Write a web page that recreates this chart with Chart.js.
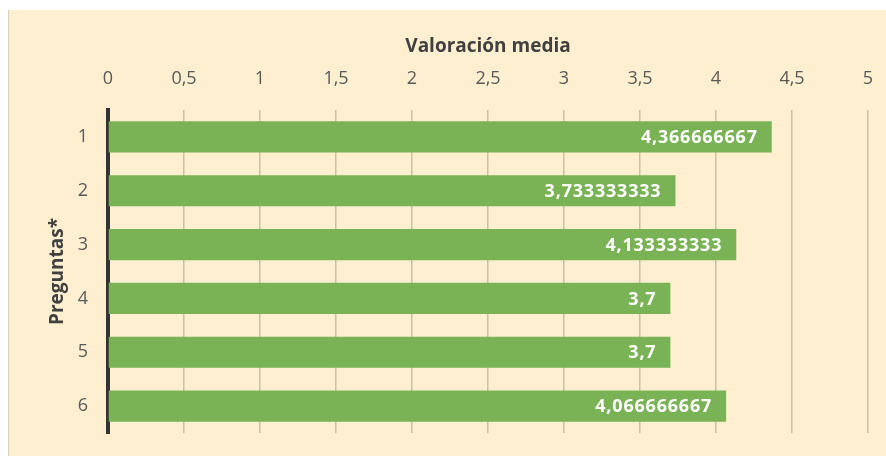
<!DOCTYPE html>
<html>
<head>
<meta charset="utf-8">
<script src="https://cdn.jsdelivr.net/npm/chart.js@4/dist/chart.umd.min.js"></script>
<style>
  html, body { margin: 0; padding: 0; background: #fff; }
  #wrap {
    position: absolute; left: 8px; top: 10px; width: 878px; height: 446px;
    background: #fdefcf; border-left: 1px solid #d4cfc4; box-sizing: border-box;
  }
  canvas { display: block; }
</style>
</head>
<body>
<div id="wrap"><canvas id="chart" width="877" height="446"></canvas></div>
<script>
'use strict';

// ── datos ─────────────────────────────────────────────
const preguntas = ['1', '2', '3', '4', '5', '6'];
const valores = [4.366666667, 3.733333333, 4.133333333, 3.7, 3.7, 4.066666667];
const etiquetas = ['4,366666667', '3,733333333', '4,133333333', '3,7', '3,7', '4,066666667'];

const FONT = '"Open Sans", "Noto Sans", sans-serif';
const BAR_COLOR = '#79b355';

// etiqueta blanca dentro del extremo de cada barra
const barLabels = {
  id: 'barLabels',
  afterDatasetsDraw(chart) {
    const { ctx } = chart;
    const meta = chart.getDatasetMeta(0);
    ctx.save();
    ctx.font = 'bold 18px ' + FONT;
    ctx.letterSpacing = '0.8px';
    ctx.fillStyle = '#ffffff';
    ctx.textAlign = 'right';
    ctx.textBaseline = 'middle';
    meta.data.forEach((bar, i) => {
      ctx.fillText(etiquetas[i], bar.x - 14, bar.y + 1);
    });
    ctx.restore();
  }
};

new Chart(document.getElementById('chart'), {
  type: 'bar',
  data: {
    labels: preguntas,
    datasets: [{
      data: valores,
      backgroundColor: BAR_COLOR,
      borderWidth: 0,
      barPercentage: 0.58,
      categoryPercentage: 1,
    }]
  },
  options: {
    indexAxis: 'y',
    responsive: false,
    animation: false,
    layout: { padding: { left: 0, right: 18, top: 0, bottom: 23 } },
    plugins: {
      legend: { display: false },
      tooltip: { enabled: false },
    },
    scales: {
      x: {
        position: 'top',
        min: 0,
        max: 5,
        // altura fija del eje superior; sin margen extra por la última etiqueta
        afterFit: s => { s.height = 100; s.paddingRight = 0; s.paddingLeft = 0; },
        ticks: {
          stepSize: 0.5,
          color: '#595959',
          font: { family: FONT, size: 18 },
          padding: 20,
          callback: v => String(v).replace('.', ','),
        },
        grid: { color: '#cbbf9f', lineWidth: 1.5, drawTicks: false },
        border: { display: false },
        title: {
          display: true,
          text: 'Valoración media',
          color: '#404040',
          font: { family: FONT, size: 19, weight: 'bold' },
          padding: { top: 25, bottom: 0 },
        },
      },
      y: {
        afterFit: s => { s.width = 99; s.paddingTop = 0; s.paddingBottom = 0; },
        ticks: {
          color: '#595959',
          font: { family: FONT, size: 18 },
          padding: 20,
        },
        grid: { display: false, drawTicks: false },
        border: { display: true, color: '#333333', width: 4 },
        title: {
          display: true,
          text: 'Preguntas*',
          color: '#404040',
          font: { family: FONT, size: 19, weight: 'bold' },
          padding: { top: 37, bottom: 0 },
        },
      },
    },
  },
  plugins: [barLabels],
});
</script>
</body>
</html>
